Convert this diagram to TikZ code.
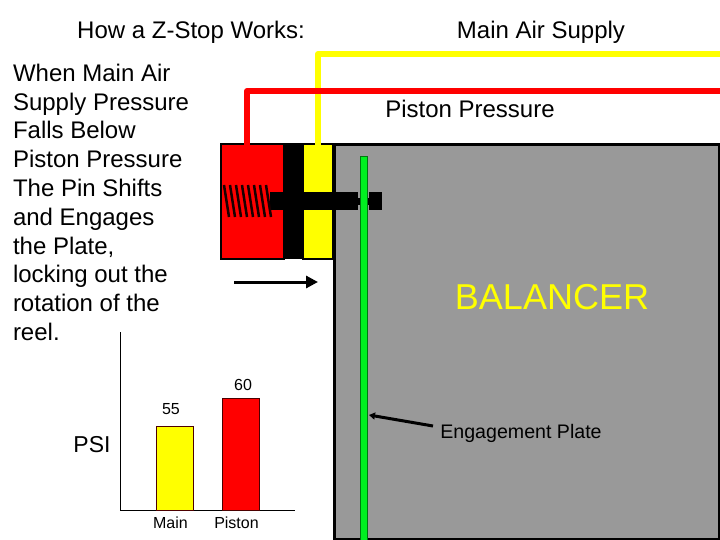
\documentclass[tikz,border=0pt]{standalone}
\usepackage{fontspec}
\setmainfont{Liberation Sans}
\usetikzlibrary{arrows.meta}
\definecolor{AirYellow}{HTML}{FFFF00}
\definecolor{AirRed}{HTML}{FF0000}
\definecolor{Plate}{HTML}{00F020}
\definecolor{Body}{HTML}{999999}
\tikzset{
  part/.style={anchor=north west,inner sep=0pt,outer sep=0pt},
  label/.style={inner sep=0pt,text=black,font=\fontsize{#1}{#1}\selectfont},
  airline/.style={line width=6pt,line join=round},
  pointer/.style={line width=#1,-{Triangle[length=12pt,width=12pt]}},
  bar/.style={part,draw=black!70!red,line width=1pt,minimum width=37pt}
}
\begin{document}
\begin{tikzpicture}[x=1pt,y=-1pt]
    \useasboundingbox (0,0) rectangle (720,540);
    \node[part,draw=black,line width=3pt,fill=Body,minimum width=385pt,minimum height=394pt] (balancer) at (334.5,145) {};
    \node[part,draw=black,line width=2pt,fill=AirRed,minimum width=63pt,minimum height=115pt] (redchamber) at (221,144) {};
    \node[part,draw=black,line width=2pt,fill=AirYellow,minimum width=30pt,minimum height=115pt] (yellowchamber) at (303,144) {};
    \node[part,fill=black,minimum width=19pt,minimum height=116pt] (piston) at (284,143) {};
    \node[part,fill=black,minimum width=88pt,minimum height=18pt] (pinrod) at (270,192) {};
    \node[part,fill=black,minimum width=13pt,minimum height=18pt] (pintip) at (369,192) {};
    \node[part,fill=black,minimum width=11pt,minimum height=7pt] (pinneck) at (358,198) {};
    \foreach \x in {224,230,...,266}
      \draw[line width=2.5pt,black!90!red] (\x,185) -- (\x+5,217);
    \node[part,draw=black!50!Plate,line width=0.4pt,fill=Plate,minimum width=6.5pt,minimum height=385pt] (plate) at (360.3,156) {};

    \coordinate (yellowport) at (318,145);
    \coordinate (yellowend) at (720,54);
    \coordinate (redport) at (247,145);
    \coordinate (redend) at (720,91);
    \draw[airline,AirYellow] (yellowport) |- (yellowend);
    \draw[airline,AirRed] (redport) |- (redend);

    \coordinate (shiftstart) at (234,282);
    \coordinate (shiftend) at (318,282);
    \draw[pointer=3pt] (shiftstart) -- (shiftend);

    \node[label=24] (title) at (191,32) {How a Z-Stop Works:};
    \node[label=24] (mainair) at (541,32) {Main Air Supply};
    \node[label=24] (pistonpressure) at (470,109) {Piston Pressure};
    \node[label=36,text=AirYellow] (balancertext) at (552,297) {BALANCER};
    \node[label=19.6] (platetext) at (521,433) {Engagement Plate};
    \node[part,align=left,font=\fontsize{24}{28.8}\selectfont] (explain) at (13,64) {When Main Air\\Supply Pressure\\Falls Below\\Piston Pressure\\The Pin Shifts\\and Engages\\the Plate,\\locking out the\\rotation of the\\reel.};

    \coordinate (platestart) at (433,426);
    \coordinate (plateend) at (369,415);
    \draw[line width=3pt,-{Triangle[length=6pt,width=7pt]}] (platestart) -- (plateend);

    \coordinate (axistop) at (120,332);
    \coordinate (axisorigin) at (120,510.5);
    \coordinate (axisright) at (295,510.5);
    \draw[line width=1pt] (axistop) -- (axisorigin) -- (axisright);
    \node[label=23] (psi) at (92,445) {PSI};
    \foreach \x/\top/\tint/\val/\name/\namex/\valx/\valy in {
      156/426/AirYellow/55/Main/170.5/171/409,
      222/398/AirRed/60/Piston/236.5/243/385}
    {
      \pgfmathsetmacro{\barh}{510-\top}
      \node[bar,fill=\tint,minimum height=\barh pt] (bar\val) at (\x,\top) {};
      \node[label=16] (value\val) at (\valx,\valy) {\val};
      \node[label=16] (name\val) at (\namex,523) {\name};
    }
  \end{tikzpicture}
\end{document}
